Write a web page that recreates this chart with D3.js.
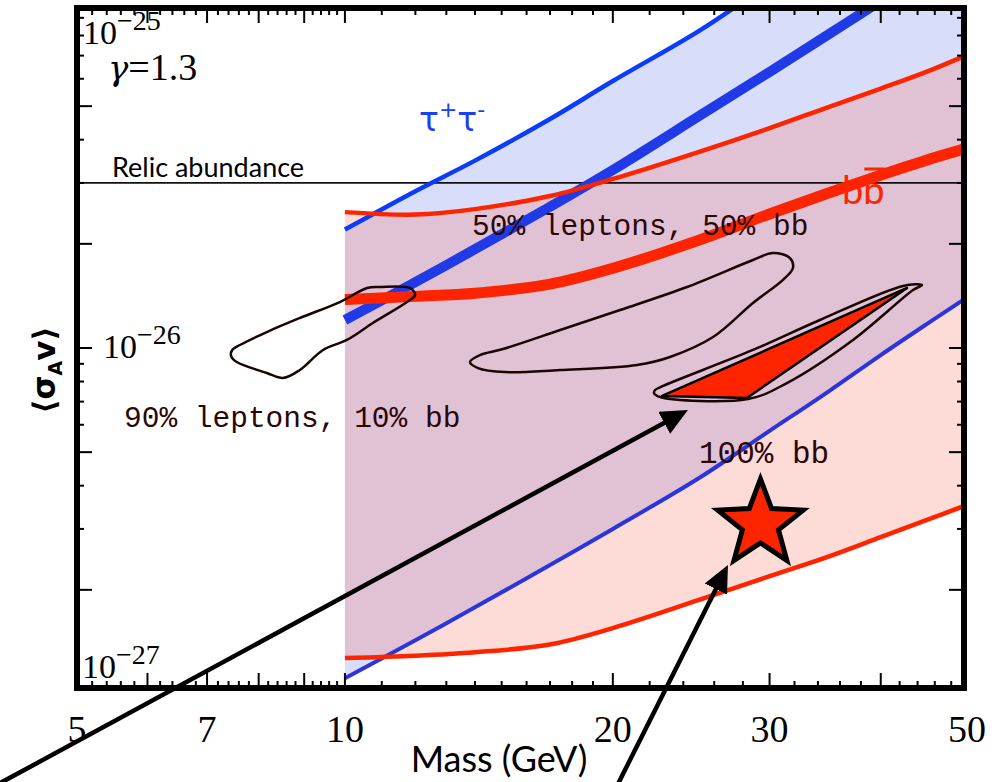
<!DOCTYPE html>
<html>
<head>
<meta charset="utf-8">
<script src="https://cdn.jsdelivr.net/npm/d3@7"></script>
<style>
body { margin: 0; background: #fff; }
</style>
</head>
<body>
<div id="chart-area"></div>
<script>
var svgWidth = 992
var svgHeight = 782

// band curves, sampled at these masses (GeV)
var masses = [10, 12, 14, 17, 20, 25, 30, 35, 40, 45, 50]
var bbUpper = [2.47e-26, 2.43e-26, 2.52e-26, 2.75e-26, 3.08e-26, 3.69e-26, 4.32e-26, 4.98e-26, 5.62e-26, 6.28e-26, 7.03e-26]
var bbCentral = [1.38e-26, 1.41e-26, 1.44e-26, 1.53e-26, 1.70e-26, 2.05e-26, 2.44e-26, 2.81e-26, 3.16e-26, 3.49e-26, 3.78e-26]
var bbLower = [1.27e-27, 1.29e-27, 1.32e-27, 1.39e-27, 1.55e-27, 1.87e-27, 2.19e-27, 2.50e-27, 2.84e-27, 3.18e-27, 3.52e-27]
var tauUpper = [2.20e-26, 2.84e-26, 3.48e-26, 4.59e-26, 5.91e-26, 8.25e-26, 1.13e-25, 1.47e-25, 1.85e-25, 2.24e-25, 2.66e-25]
var tauCentral = [1.205e-26, 1.55e-26, 1.93e-26, 2.56e-26, 3.27e-26, 4.68e-26, 6.28e-26, 8.08e-26, 1.007e-25, 1.22e-25, 1.44e-25]
var tauLower = [1.11e-27, 1.43e-27, 1.78e-27, 2.36e-27, 3.00e-27, 4.21e-27, 5.76e-27, 7.51e-27, 9.54e-27, 1.17e-26, 1.40e-26]

var relicValue = 3e-26

// fit contours [mass, <sigma v>]
var contour90 = [[7.47, 0.987e-26], [7.62, 1.02e-26], [8.17, 1.112e-26], [8.90, 1.221e-26], [9.87, 1.358e-26],
	[10.59, 1.491e-26], [10.95, 1.501e-26], [11.83, 1.491e-26], [11.99, 1.423e-26], [11.74, 1.358e-26],
	[10.75, 1.181e-26], [10.05, 1.055e-26], [9.45, 0.987e-26], [8.90, 0.864e-26], [8.52, 0.819e-26],
	[8.17, 0.847e-26], [7.56, 0.911e-26], [7.45, 0.948e-26]]
var contour50 = [[13.82, 0.911e-26], [14.18, 0.954e-26], [15.05, 0.993e-26], [17.45, 1.127e-26], [20.38, 1.288e-26],
	[24.23, 1.501e-26], [28.74, 1.796e-26], [30.27, 1.882e-26], [31.63, 1.820e-26], [31.87, 1.703e-26],
	[31.06, 1.573e-26], [28.74, 1.349e-26], [25.92, 1.076e-26], [23.19, 0.942e-26], [21.29, 0.893e-26],
	[17.45, 0.864e-26], [15.13, 0.852e-26], [14.11, 0.875e-26]]
var contour100 = [[22.31, 0.756e-26], [22.78, 0.777e-26], [28.74, 0.987e-26], [34.18, 1.205e-26], [42.38, 1.511e-26],
	[44.51, 1.521e-26], [43.49, 1.471e-26], [37.23, 1.055e-26], [31.38, 0.792e-26], [28.37, 0.712e-26],
	[22.60, 0.722e-26], [22.25, 0.741e-26]]
var region100 = [[22.72, 0.727e-26], [42.82, 1.491e-26], [28.29, 0.717e-26]]

var starPoint = [29.3, 3.1e-27]
// arrows: [start, tip]
var arrows = [
	[[4.10, 5.53e-28], [24.29, 0.662e-26]],
	[[20.11, 5.28e-28], [26.94, 2.36e-27]]
]

var xTickLabels = [5, 7, 10, 20, 30, 50]

var plotL = 77, plotR = 964, plotT = 8, plotB = 688
var textCol = "#2b0606"
var red = "#ff2400"

var svg = d3.select("#chart-area")
			.append("svg")
			.attr("width", svgWidth)
			.attr("height", svgHeight)

var x = d3.scaleLog()
			.domain([5, 50])
			.range([77, 967])

var y = d3.scaleLog()
			.domain([1e-27, 1e-25])
			.range([694, 2])

var defs = svg.append("defs")
defs.append("clipPath").attr("id", "plot")
	.append("rect")
	.attr("x", plotL).attr("y", plotT)
	.attr("width", plotR - plotL).attr("height", plotB - plotT)

defs.append("marker")
	.attr("id", "head")
	.attr("viewBox", "0 0 27 25")
	.attr("refX", 27).attr("refY", 12.5)
	.attr("markerWidth", 27).attr("markerHeight", 25)
	.attr("markerUnits", "userSpaceOnUse")
	.attr("orient", "auto")
	.append("path")
	.attr("d", "M0,0L27,12.5L0,25Z")
	.attr("fill", "#000")

var band = function(lo, hi){
	return masses.map(function(m, i){ return {m: m, lo: lo[i], hi: hi[i]} })
}
var series = function(vals){
	return masses.map(function(m, i){ return [m, vals[i]] })
}

var area = d3.area()
			.x(function(d){ return x(d.m) })
			.y0(function(d){ return y(d.lo) })
			.y1(function(d){ return y(d.hi) })
			.curve(d3.curveCatmullRom.alpha(0.5))

var line = d3.line()
			.x(function(d){ return x(d[0]) })
			.y(function(d){ return y(d[1]) })
			.curve(d3.curveCatmullRom.alpha(0.5))

var contourLine = d3.line()
			.x(function(d){ return x(d[0]) })
			.y(function(d){ return y(d[1]) })
			.curve(d3.curveCatmullRomClosed.alpha(0.5))

var g = svg.append("g").attr("clip-path", "url(#plot)")

// shaded bands
g.append("path").attr("d", area(band(tauLower, tauUpper))).attr("fill", "rgb(216,221,250)")
g.append("path").attr("d", area(band(bbLower, bbUpper))).attr("fill", "rgb(247,115,99)").attr("fill-opacity", 0.25)

// relic abundance
g.append("line")
	.attr("x1", plotL).attr("x2", plotR)
	.attr("y1", y(relicValue)).attr("y2", y(relicValue))
	.attr("stroke", "#111").attr("stroke-width", 1.8)

// tau lines
g.append("path").attr("d", line(series(tauUpper))).attr("fill", "none").attr("stroke", "#0b3cfa").attr("stroke-width", 4.5)
g.append("path").attr("d", line(series(tauLower))).attr("fill", "none").attr("stroke", "#2b35d8").attr("stroke-width", 4)
g.append("path").attr("d", line(series(tauCentral))).attr("fill", "none").attr("stroke", "#1f3ae6").attr("stroke-width", 10)

// bb lines
g.append("path").attr("d", line(series(bbUpper))).attr("fill", "none").attr("stroke", red).attr("stroke-width", 4.5)
g.append("path").attr("d", line(series(bbLower))).attr("fill", "none").attr("stroke", red).attr("stroke-width", 4.5)
g.append("path").attr("d", line(series(bbCentral))).attr("fill", "none").attr("stroke", red).attr("stroke-width", 11)

// contours
g.append("path").attr("d", contourLine(contour90)).attr("fill", "none").attr("stroke", "#1a0404").attr("stroke-width", 2.5)
g.append("path").attr("d", contourLine(contour50)).attr("fill", "none").attr("stroke", "#1a0404").attr("stroke-width", 2.5)
g.append("path").attr("d", contourLine(contour100)).attr("fill", "none").attr("stroke", "#1a0404").attr("stroke-width", 2.5)
g.append("path")
	.attr("d", d3.line().x(function(d){ return x(d[0]) }).y(function(d){ return y(d[1]) }).curve(d3.curveLinearClosed)(region100))
	.attr("fill", red).attr("stroke", "#000").attr("stroke-width", 2.5).attr("stroke-linejoin", "round")

// star
var sx = x(starPoint[0]), sy = y(starPoint[1])
var starPts = d3.range(10).map(function(i){
	var r = i % 2 == 0 ? 45 : 19
	var a = -Math.PI / 2 + i * Math.PI / 5
	return [sx + r * Math.cos(a), sy + r * Math.sin(a)]
})
svg.append("path")
	.attr("d", "M" + starPts.join("L") + "Z")
	.attr("fill", red).attr("stroke", "#000").attr("stroke-width", 5).attr("stroke-linejoin", "miter")

// frame
svg.append("rect")
	.attr("x", plotL).attr("y", plotT)
	.attr("width", plotR - plotL).attr("height", plotB - plotT)
	.attr("fill", "none").attr("stroke", "#000").attr("stroke-width", 6)

// ticks
var xMajor = [6, 7, 8, 9, 10, 20, 30, 40]
var xMinor = d3.range(5.2, 9.9, 0.2).concat(d3.range(11, 20, 1)).concat(d3.range(22, 50, 2))
	.filter(function(v){ return xMajor.indexOf(Math.round(v * 10) / 10) < 0 })
var yMajor = [2e-27, 5e-27, 1e-26, 2e-26, 5e-26]
var yMinor = [3e-27, 4e-27, 6e-27, 7e-27, 8e-27, 9e-27, 3e-26, 4e-26, 6e-26, 7e-26, 8e-26, 9e-26]

var ticks = svg.append("g").attr("stroke", "#000").attr("stroke-width", 2)
xMajor.forEach(function(v){
	ticks.append("line").attr("x1", x(v)).attr("x2", x(v)).attr("y1", plotB).attr("y2", plotB - 15)
	ticks.append("line").attr("x1", x(v)).attr("x2", x(v)).attr("y1", plotT).attr("y2", plotT + 15)
})
xMinor.forEach(function(v){
	ticks.append("line").attr("x1", x(v)).attr("x2", x(v)).attr("y1", plotB).attr("y2", plotB - 7)
	ticks.append("line").attr("x1", x(v)).attr("x2", x(v)).attr("y1", plotT).attr("y2", plotT + 7)
})
yMajor.forEach(function(v){
	ticks.append("line").attr("x1", plotL).attr("x2", plotL + 15).attr("y1", y(v)).attr("y2", y(v))
	ticks.append("line").attr("x1", plotR).attr("x2", plotR - 15).attr("y1", y(v)).attr("y2", y(v))
})
yMinor.forEach(function(v){
	ticks.append("line").attr("x1", plotL).attr("x2", plotL + 7).attr("y1", y(v)).attr("y2", y(v))
	ticks.append("line").attr("x1", plotR).attr("x2", plotR - 7).attr("y1", y(v)).attr("y2", y(v))
})

// x tick labels
svg.selectAll(".xlab").data(xTickLabels).enter()
	.append("text")
	.attr("x", function(d){ return x(d) })
	.attr("y", 742)
	.attr("text-anchor", "middle")
	.style("font-family", "Liberation Serif")
	.style("font-size", "38px")
	.text(function(d){ return d })

// y tick labels (placed inside the frame)
var yLabs = [{p: -25, x: 83, y: 44}, {p: -26, x: 103, y: 358}, {p: -27, x: 82, y: 678}]
yLabs.forEach(function(d){
	var t = svg.append("text").attr("x", d.x).attr("y", d.y)
		.style("font-family", "Liberation Serif").style("font-size", "34px").attr("fill", "#000")
	t.append("tspan").text("10")
	t.append("tspan").attr("dy", -14).style("font-size", "28px").text("\u2212" + (-d.p))
})

// gamma
var gt = svg.append("text").attr("x", 108).attr("y", 80)
	.style("font-family", "Liberation Serif").style("font-size", "38px")
gt.append("tspan").style("font-family", "DejaVu Serif").style("font-style", "italic").style("font-size", "34px").text("\u03b3")
gt.append("tspan").text("=1.3")

svg.append("text").attr("x", 112).attr("y", 177)
	.style("font-family", "Lato").style("font-size", "27px")
	.text("Relic abundance")

// tau label
var tt = svg.append("text").attr("x", 419).attr("y", 131)
	.style("font-family", "DejaVu Sans").style("font-size", "33px").attr("fill", "#1a40f5")
tt.append("tspan").text("\u03c4")
tt.append("tspan").attr("dy", -14).style("font-size", "22px").text("+")
tt.append("tspan").attr("dy", 14).text("\u03c4")
tt.append("tspan").attr("dy", -14).style("font-size", "22px").text("-")

// b bbar label
var bt = svg.append("text").attr("x", 842).attr("y", 204)
	.style("font-family", "Lato").style("font-size", "38px").attr("fill", red)
bt.text("bb")
var bw = bt.node().getComputedTextLength()
svg.append("line")
	.attr("x1", 842 + bw / 2 + 1).attr("x2", 842 + bw)
	.attr("y1", 169).attr("y2", 169)
	.attr("stroke", red).attr("stroke-width", 3)

// fraction labels
var fracStyle = function(sel, size){
	sel.style("font-family", "Liberation Mono").style("font-size", size).attr("fill", textCol)
}
svg.append("text").attr("x", 472).attr("y", 235).call(fracStyle, "29.5px").text("50% leptons, 50% bb")
svg.append("text").attr("x", 124).attr("y", 427).call(fracStyle, "29.5px").text("90% leptons, 10% bb")
svg.append("text").attr("x", 699).attr("y", 463).call(fracStyle, "31px").text("100% bb")

// axis titles
svg.append("text").attr("x", 499).attr("y", 772)
	.attr("text-anchor", "middle")
	.style("font-family", "Lato").style("font-size", "36px")
	.text("Mass (GeV)")

var yt = svg.append("text").attr("transform", "translate(55,370) rotate(-90)")
	.attr("text-anchor", "middle")
	.style("font-family", "DejaVu Sans").style("font-weight", "bold").style("font-size", "31px")
yt.append("tspan").text("\u27e8\u03c3")
yt.append("tspan").attr("dy", 7).style("font-size", "19px").text("A")
yt.append("tspan").attr("dy", -7).text("v\u27e9")

// arrows
arrows.forEach(function(a){
	var x0 = x(a[0][0]), y0 = y(a[0][1]), x1 = x(a[1][0]), y1 = y(a[1][1])
	var len = Math.hypot(x1 - x0, y1 - y0)
	var ux = (x1 - x0) / len, uy = (y1 - y0) / len
	svg.append("line")
		.attr("x1", x0).attr("y1", y0)
		.attr("x2", x1 - ux * 12).attr("y2", y1 - uy * 12)
		.attr("stroke", "#000").attr("stroke-width", 4.5)
	svg.append("line")
		.attr("x1", x1 - ux * 13).attr("y1", y1 - uy * 13)
		.attr("x2", x1).attr("y2", y1)
		.attr("stroke", "none")
		.attr("marker-end", "url(#head)")
})
</script>
</body>
</html>
